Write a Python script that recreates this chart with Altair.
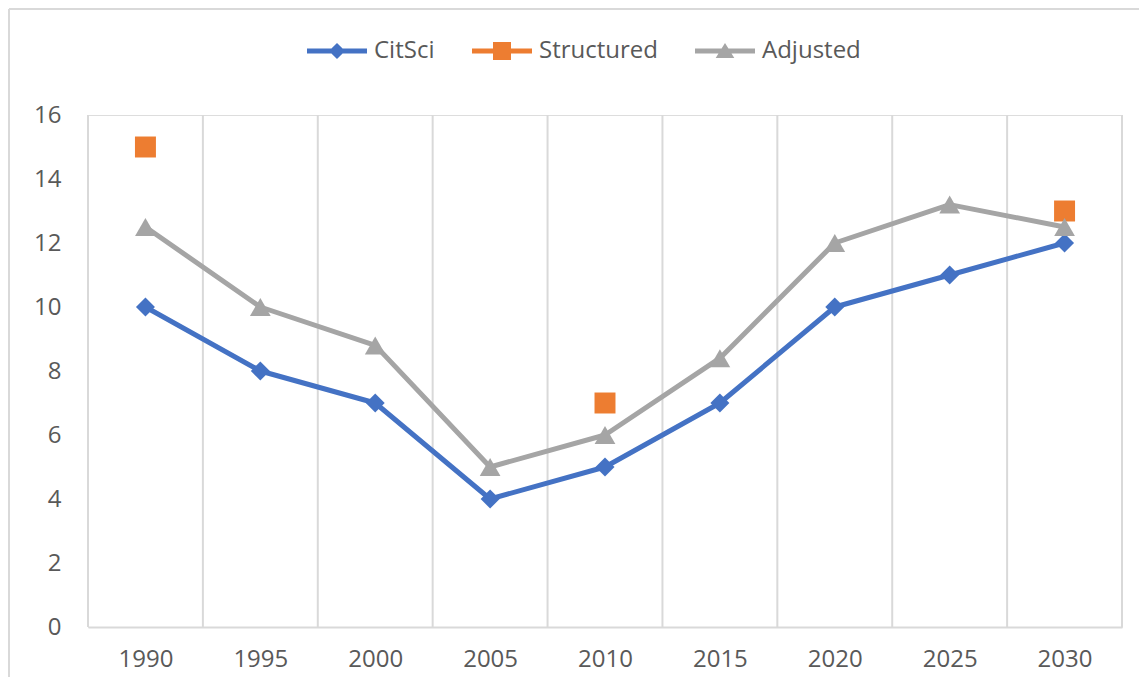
import altair as alt
import pandas as pd

years = [1990, 1995, 2000, 2005, 2010, 2015, 2020, 2025, 2030]
citsci = [10, 8, 7, 4, 5, 7, 10, 11, 12]
structured = [15, None, None, None, 7, None, None, None, 13]
adjusted = [12.5, 10, 8.8, 5, 6, 8.4, 12, 13.2, 12.5]
y_ticks = [0, 2, 4, 6, 8, 10, 12, 14, 16]

series_names = ["CitSci", "Structured", "Adjusted"]
series_colors = ["#4472C4", "#ED7D31", "#A5A5A5"]

rows = []
for name, vals in zip(series_names, [citsci, structured, adjusted]):
    for yr, v in zip(years, vals):
        if v is not None:
            rows.append({"year": yr, "series": name, "value": v})
df = pd.DataFrame(rows)

bounds = pd.DataFrame({"year": [y - 2.5 for y in years] + [years[-1] + 2.5]})

FONT = "Open Sans"
FS = 24
LABEL_COLOR = "#595959"
GRID = "#D9D9D9"

xscale = alt.Scale(domain=[years[0] - 2.5, years[-1] + 2.5], nice=False, zero=False)
yscale = alt.Scale(domain=[0, 16], nice=False)
cscale = alt.Scale(domain=series_names, range=series_colors)

x_axis = alt.Axis(values=years, format="d", title=None, grid=False, ticks=False,
                  domainColor=GRID, domainWidth=2, labelPadding=20,
                  labelFont=FONT, labelFontSize=FS, labelColor=LABEL_COLOR,
                  labelOverlap=False, labelFlush=False)
y_axis = alt.Axis(values=y_ticks, title=None, grid=False, ticks=False, domain=False,
                  labelPadding=27, labelFont=FONT, labelFontSize=FS,
                  labelColor=LABEL_COLOR)
x_enc = alt.X("year:Q", scale=xscale, axis=x_axis)
y_enc = alt.Y("value:Q", scale=yscale, axis=y_axis)

one = alt.Data(values=[{}])
border_left = alt.Chart(one).mark_rule(color=GRID, strokeWidth=2).encode(
    x=alt.value(-79), y=alt.value(-106), y2=alt.value(600))
border_top = alt.Chart(one).mark_rule(color=GRID, strokeWidth=2).encode(
    x=alt.value(-79), x2=alt.value(1100), y=alt.value(-106))

grid = alt.Chart(bounds).mark_rule(color=GRID, strokeWidth=2).encode(
    x=x_enc,
    y=alt.Y(datum=16, scale=yscale, axis=y_axis),
    y2=alt.Y2(datum=0),
)

base = alt.Chart(df)

line_layers = []
for name, col in zip(series_names, series_colors):
    if name == "Structured":
        continue
    line_layers.append(
        base.transform_filter(alt.datum.series == name).mark_line(
            color=col, strokeWidth=5, strokeJoin="round", strokeCap="round"
        ).encode(x=x_enc, y=y_enc)
    )

marker_specs = {"CitSci": ("diamond", 360), "Structured": ("square", 440), "Adjusted": ("triangle-up", 430)}
point_layers = []
for name, col in zip(series_names, series_colors):
    shp, sz = marker_specs[name]
    point_layers.append(
        base.transform_filter(alt.datum.series == name).mark_point(
            shape=shp, size=sz, filled=True, opacity=1, strokeWidth=0, color=col
        ).encode(x=x_enc, y=y_enc)
    )

line_part = "M-1,-0.08L1,-0.08L1,0.08L-1,0.08Z"
legend_paths = [
    line_part + "M0,-0.27L0.27,0L0,0.27L-0.27,0Z",
    line_part + "M-0.3,-0.3L0.3,-0.3L0.3,0.3L-0.3,0.3Z",
    line_part + "M0,-0.27L0.31,0.23L-0.31,0.23Z",
]

# legend-only layer: no rows survive the filter, the legend comes from the scale domain
legend_layer = base.transform_filter(alt.datum.value < -1000).mark_point(
    filled=True, opacity=1
).encode(
    x=x_enc, y=y_enc,
    color=alt.Color("series:N", scale=cscale,
                    legend=alt.Legend(orient="none", legendX=219, legendY=-94,
                                      direction="horizontal", title=None,
                                      symbolSize=3600, symbolOpacity=1, symbolStrokeWidth=0,
                                      labelFont=FONT, labelFontSize=FS, labelColor=LABEL_COLOR,
                                      labelOffset=7, columnPadding=37, padding=0)),
    shape=alt.Shape("series:N", scale=alt.Scale(domain=series_names, range=legend_paths)),
)

chart = alt.layer(border_left, border_top, grid, *line_layers, *point_layers, legend_layer).properties(
    width=1034, height=512,
    autosize=alt.AutoSizeParams(type="none"),
    padding={"left": 80, "top": 107, "right": 17, "bottom": 50},
).configure_view(stroke=None).configure(background="white")

chart.save("out.html", embed_options={"renderer": "svg", "actions": False})
